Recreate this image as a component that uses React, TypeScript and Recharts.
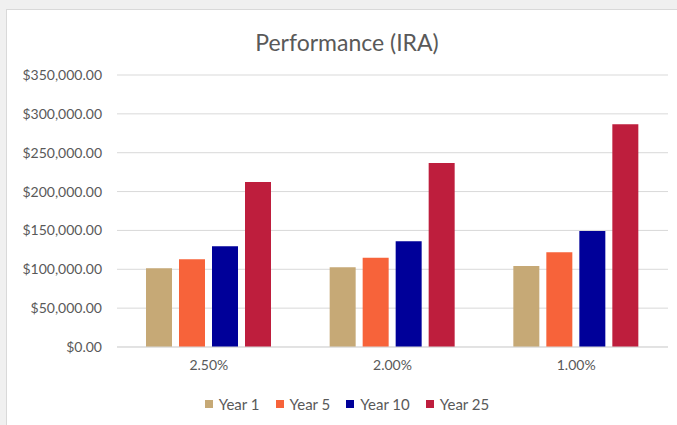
import React from 'react';
import { BarChart, Bar, XAxis, YAxis, CartesianGrid, Legend } from 'recharts';

const categories = ['2.50%', '2.00%', '1.00%'];
const year1 = [101300, 102600, 104200];
const year5 = [112900, 114900, 121800];
const year10 = [129600, 136000, 149300];
const year25 = [212300, 236800, 286500];
const yTicks = [0, 50000, 100000, 150000, 200000, 250000, 300000, 350000];

const seriesNames = ['Year 1', 'Year 5', 'Year 10', 'Year 25'];
const seriesColors = ['#C6A976', '#F7633A', '#000099', '#BE1E3D'];

const data = categories.map((c, i) => ({
  name: c,
  'Year 1': year1[i],
  'Year 5': year5[i],
  'Year 10': year10[i],
  'Year 25': year25[i],
}));

const fmt = (v: number) =>
  '$' + v.toLocaleString('en-US', { minimumFractionDigits: 2, maximumFractionDigits: 2 });

const FONT = 'Lato, "Noto Sans", sans-serif';
const TEXT = '#595959';

const LegendContent = () => (
  <div style={{ height: 18, display: 'flex', justifyContent: 'center', alignItems: 'center', fontSize: 15, fontFamily: FONT, color: TEXT }}>
    {seriesNames.map((s, i) => (
      <span key={s} style={{ display: 'inline-flex', alignItems: 'center', marginRight: i < seriesNames.length - 1 ? 16 : 0 }}>
        <span style={{ display: 'inline-block', width: 8, height: 8, background: seriesColors[i], marginRight: 6 }} />
        {s}
      </span>
    ))}
  </div>
);

export default function App() {
  return (
    <div style={{ position: 'absolute', left: 0, top: 0, width: 677, height: 425, background: '#f0f0f0', overflow: 'hidden', fontFamily: FONT }}>
      <div style={{ position: 'absolute', left: 6, top: 9, width: 680, height: 430, background: '#ffffff', border: '1px solid #d9d9d9', boxSizing: 'border-box' }} />
      <div style={{ position: 'absolute', left: 0, top: 27, width: 694, textAlign: 'center', fontSize: 23, lineHeight: '30px', color: TEXT, fontFamily: FONT }}>
        Performance (IRA)
      </div>
      <div style={{ position: 'absolute', left: 0, top: 0 }}>
        <BarChart
          width={677}
          height={425}
          data={data}
          margin={{ top: 75, right: 9, left: 0, bottom: 30 }}
          barCategoryGap="16%"
          barGap={7}
        >
          <CartesianGrid vertical={false} stroke="#d9d9d9" strokeWidth={1} />
          <XAxis
            dataKey="name"
            axisLine={{ stroke: '#d9d9d9' }}
            tickLine={false}
            tickMargin={7}
            tick={{ fill: TEXT, fontSize: 14, fontFamily: FONT }}
            height={30}
          />
          <YAxis
            width={117}
            domain={[0, 350000]}
            ticks={yTicks}
            tickFormatter={fmt}
            axisLine={false}
            tickLine={false}
            tickMargin={9}
            tick={{ fill: TEXT, fontSize: 14, fontFamily: FONT }}
            interval={0}
          />
          <Legend
            content={<LegendContent />}
            wrapperStyle={{ position: 'absolute', top: 395, left: 6, width: 682, height: 18 }}
          />
          {seriesNames.map((s, i) => (
            <Bar key={s} dataKey={s} fill={seriesColors[i]} barSize={26} isAnimationActive={false} />
          ))}
        </BarChart>
      </div>
    </div>
  );
}
